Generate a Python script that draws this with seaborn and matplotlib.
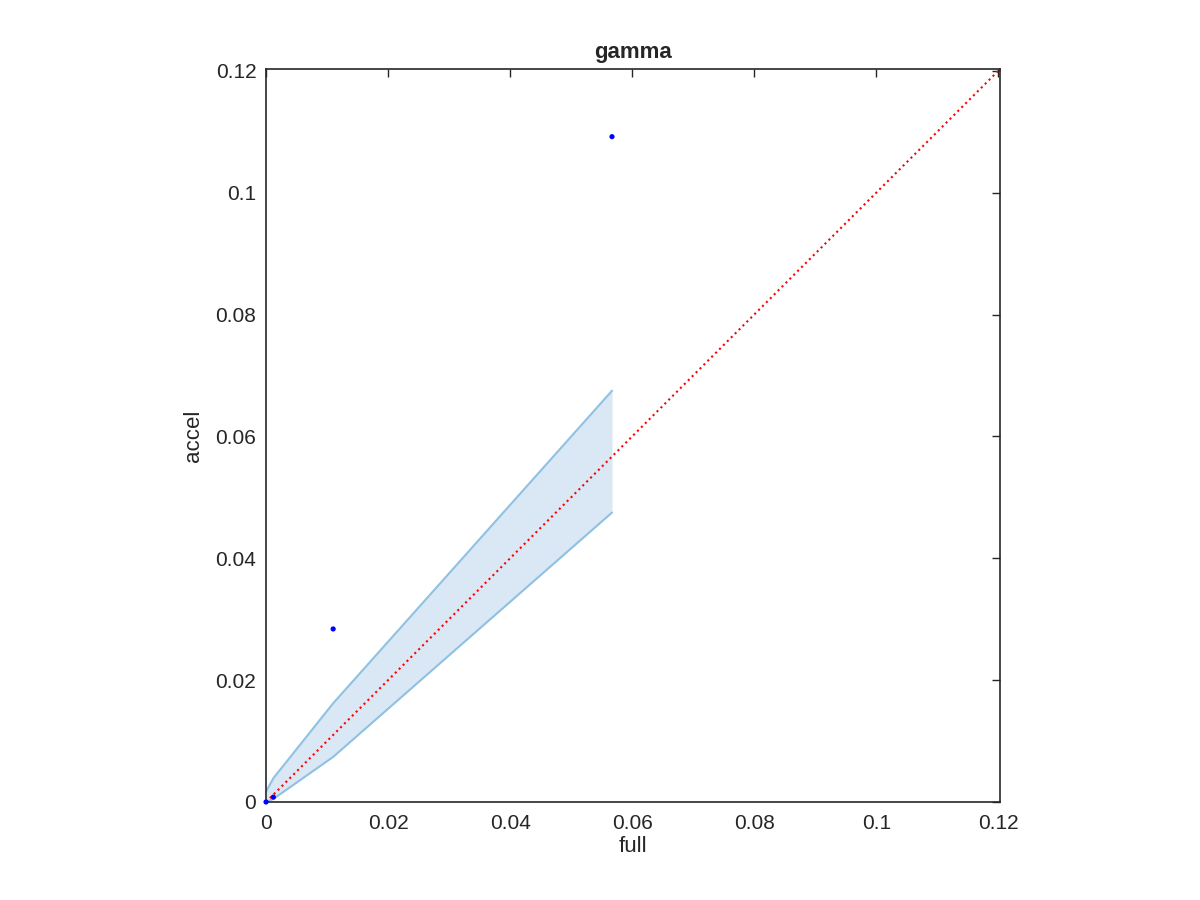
import numpy as np
import pandas as pd
import seaborn as sns
import matplotlib.pyplot as plt

# values
full_pts = [0.0, 0.0012, 0.0110, 0.0567]
accel_pts = [0.0, 0.0008, 0.0284, 0.1092]

band_x = [0.0, 0.0012, 0.0110, 0.0567]
band_lo = [0.0, 0.0005, 0.0074, 0.0475]
band_hi = [0.0017, 0.0039, 0.0162, 0.0675]

lim = 0.1203
ticks = [0, 0.02, 0.04, 0.06, 0.08, 0.1, 0.12]
tick_labels = ['0', '0.02', '0.04', '0.06', '0.08', '0.1', '0.12']

sns.set_style('white')
plt.rcParams['font.family'] = ['Liberation Sans', 'DejaVu Sans']

fig = plt.figure(figsize=(12, 9), dpi=100)
ax = fig.add_axes([0.2217, 0.1089, 0.6117, 0.8144])

# shaded band
ax.fill_between(band_x, band_lo, band_hi, color='#d9e8f4', linewidth=0)
band = pd.DataFrame({'x': band_x, 'lo': band_lo, 'hi': band_hi})
sns.lineplot(data=band, x='x', y='lo', ax=ax, color='#8fc1e3', linewidth=1.5, sort=False)
sns.lineplot(data=band, x='x', y='hi', ax=ax, color='#8fc1e3', linewidth=1.5, sort=False)

# identity line
diag = pd.DataFrame({'x': [0, lim], 'y': [0, lim]})
sns.lineplot(data=diag, x='x', y='y', ax=ax, color='red', linestyle=':', linewidth=1.5)

# points
pts = pd.DataFrame({'full': full_pts, 'accel': accel_pts})
sns.scatterplot(data=pts, x='full', y='accel', ax=ax, color='blue', s=14,
                edgecolor='none', zorder=5, clip_on=False)

ax.set_xlim(0, lim)
ax.set_ylim(0, lim)
ax.set_xticks(ticks)
ax.set_xticklabels(tick_labels)
ax.set_yticks(ticks)
ax.set_yticklabels(tick_labels)
ax.tick_params(direction='in', length=6, width=1, top=True, right=True,
               labelsize=15, colors='#262626')
ax.tick_params(axis='x', pad=9)
ax.tick_params(axis='y', pad=7)
for s in ax.spines.values():
    s.set_color('#262626')
    s.set_linewidth(1.2)
ax.set_xlabel('full', fontsize=16, color='#262626', labelpad=2)
ax.set_ylabel('accel', fontsize=16, color='#262626', labelpad=8)
ax.set_title('gamma', fontsize=16, fontweight='bold', pad=8)

fig.savefig('out.png', dpi=100)
